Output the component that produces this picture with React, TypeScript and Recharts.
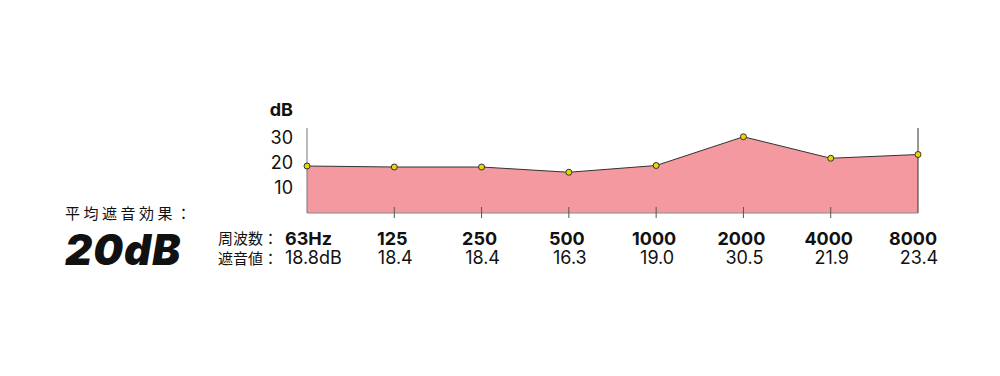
import { AreaChart, Area, XAxis, YAxis, ReferenceLine } from "recharts";

const FREQS = ["63Hz", "125", "250", "500", "1000", "2000", "4000", "8000"];
const VALUES = [18.8, 18.4, 18.4, 16.3, 19.0, 30.5, 21.9, 23.4];
const Y_TICKS = [10, 20, 30];

const data = FREQS.map((f, i) => ({ freq: f, value: VALUES[i] }));

const NUM_FONT = "Inter, 'Noto Sans', sans-serif";
const JP_FONT = "'Noto Sans CJK JP', sans-serif";

const FreqTick = ({ x, y, index }: any) => {
  const last = FREQS.length - 1;
  const first = index === 0;
  const valueText = first ? `${VALUES[index].toFixed(1)}dB` : VALUES[index].toFixed(1);
  return (
    <g>
      {index > 0 && index < last && (
        <line x1={x} x2={x} y1={y - 6} y2={y + 5} stroke="#555" strokeWidth={1} />
      )}
      {first && (
        <>
          <text x={x - 89} y={y + 31} fontSize={15} fontFamily={JP_FONT} fill="#111">周波数：</text>
          <text x={x - 89} y={y + 51} fontSize={15} fontFamily={JP_FONT} fill="#111">遮音値：</text>
        </>
      )}
      <text
        x={first ? x - 22 : index === last ? x - 5 : x - 2}
        y={y + 32}
        textAnchor={first ? "start" : "middle"}
        fontSize={18}
        fontWeight={700}
        fontFamily={NUM_FONT}
        fill="#111"
      >
        {FREQS[index]}
      </text>
      <text
        x={first ? x - 22 : x + 1}
        y={y + 51}
        textAnchor={first ? "start" : "middle"}
        fontSize={18}
        fontFamily={NUM_FONT}
        fill="#111"
      >
        {valueText}
      </text>
    </g>
  );
};

export default function App() {
  return (
    <div style={{ position: "relative", width: 1000, height: 376, margin: -8, background: "#fff" }}>
      <AreaChart
        width={1000}
        height={376}
        data={data}
        margin={{ top: 128, right: 82, left: 247, bottom: 113 }}
      >
        <XAxis
          dataKey="freq"
          interval={0}
          tickLine={false}
          tickSize={0}
          tickMargin={0}
          height={50}
          stroke="#888"
          tick={<FreqTick />}
        />
        <YAxis
          width={60}
          domain={[0, 34]}
          ticks={Y_TICKS}
          interval={0}
          tickLine={false}
          tickSize={0}
          tickMargin={14}
          stroke="#777"
          tick={{ fontSize: 18, fill: "#111", fontFamily: NUM_FONT }}
        />
        <Area
          type="linear"
          dataKey="value"
          stroke="#333"
          strokeWidth={1}
          fill="#f4999f"
          fillOpacity={1}
          dot={{ r: 3, fill: "#e6d700", stroke: "#333", strokeWidth: 1, fillOpacity: 1 }}
          activeDot={false}
          isAnimationActive={false}
        />
        <ReferenceLine x="8000" stroke="#333" strokeWidth={1} />
      </AreaChart>
      <svg width={1000} height={376} style={{ position: "absolute", left: 0, top: 0, pointerEvents: "none" }}>
        <text x={293} y={116} textAnchor="end" fontSize={18} fontWeight={700} fontFamily={NUM_FONT} fill="#111">dB</text>
        <text x={65} y={219} fontSize={15} letterSpacing={3.5} fontFamily={JP_FONT} fill="#111">平均遮音効果：</text>
        <text x={65} y={265} fontSize={42} fontWeight={900} fontStyle="italic" letterSpacing={1} fontFamily={NUM_FONT} fill="#111">20dB</text>
      </svg>
    </div>
  );
}
